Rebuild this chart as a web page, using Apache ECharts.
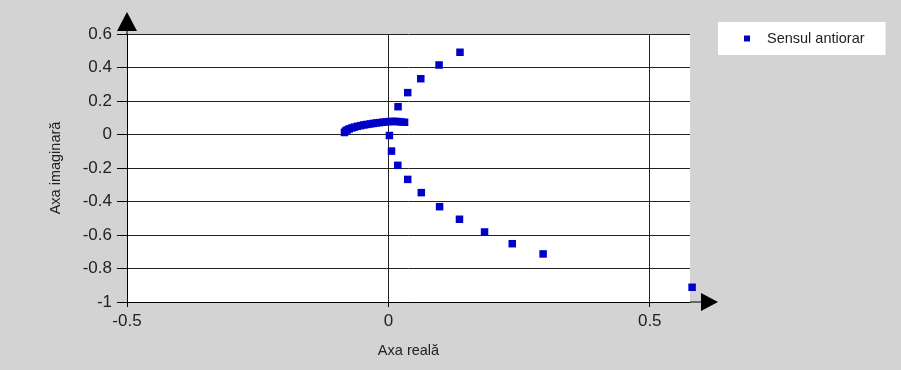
<!DOCTYPE html>
<html>
<head>
<meta charset="utf-8">
<script src="https://cdn.jsdelivr.net/npm/echarts@6/dist/echarts.min.js"></script>
<style>
html,body{margin:0;padding:0;background:#d3d3d3;}
#chart{width:901px;height:370px;}
</style>
</head>
<body>
<div id="chart"></div>
<script>
// Data
var seriesName = 'Sensul antiorar';
var xAxisName = 'Axa reală';
var yAxisName = 'Axa imaginară';
var xTicks = [-0.5, 0, 0.5];
var yTicks = [-1, -0.8, -0.6, -0.4, -0.2, 0, 0.2, 0.4, 0.6];

// real parts
var realParts = [
  -0.084, -0.082, -0.079, -0.075, -0.070, -0.065, -0.059, -0.053, -0.047, -0.041,
  -0.035, -0.029, -0.023, -0.017, -0.011, -0.005, 0.001, 0.007, 0.013, 0.019,
  0.025, 0.031,
  0.0185, 0.037, 0.062, 0.097, 0.137,
  0.002,
  0.006, 0.018, 0.037, 0.063, 0.098, 0.136, 0.184, 0.237, 0.296, 0.581
];
// imaginary parts
var imagParts = [
  0.012, 0.020, 0.027, 0.033, 0.039, 0.044, 0.049, 0.053, 0.057, 0.060,
  0.063, 0.066, 0.069, 0.071, 0.073, 0.075, 0.077, 0.078, 0.078, 0.077,
  0.075, 0.073,
  0.166, 0.250, 0.333, 0.415, 0.491,
  -0.006,
  -0.099, -0.184, -0.268, -0.347, -0.431, -0.506, -0.582, -0.652, -0.713, -0.912
];

var points = realParts.map(function (x, i) { return [x, imagParts[i]]; });

var chart = echarts.init(document.getElementById('chart'), null, {renderer: 'canvas'});
var font = 'Liberation Sans, Arial, sans-serif';
chart.setOption({
  backgroundColor: '#d3d3d3',
  animation: false,
  grid: {
    left: 127, right: 211, top: 34, bottom: 68,
    show: true, backgroundColor: '#ffffff', borderWidth: 0
  },
  legend: {
    left: 718, top: 22,
    padding: [9, 21, 9, 26],
    backgroundColor: '#ffffff',
    itemWidth: 6, itemHeight: 6,
    icon: 'rect',
    data: [seriesName],
    textStyle: {fontFamily: font, fontSize: 14.5, color: '#222', padding: [0, 0, 0, 12]}
  },
  xAxis: {
    type: 'value',
    min: xTicks[0], max: 0.577, interval: 0.5,
    name: xAxisName, nameLocation: 'middle', nameGap: 41,
    nameTextStyle: {fontFamily: font, fontSize: 14.5, color: '#222'},
    axisLine: {
      onZero: false,
      lineStyle: {color: '#000', width: 1},
      symbol: ['none', 'path://M9,0L18,17L0,17Z M8.5,17L9.5,17L9.5,28L8.5,28Z'],
      symbolSize: [18, 28], symbolOffset: [0, 14]
    },
    axisTick: {show: true, length: 5, lineStyle: {color: '#000'}, customValues: xTicks},
    axisLabel: {
      fontFamily: font, fontSize: 17, color: '#222', margin: 11,
      customValues: xTicks,
      formatter: function (v) { return String(Math.round(v * 10) / 10); }
    },
    splitLine: {show: true, lineStyle: {color: '#222', width: 1}}
  },
  yAxis: {
    type: 'value',
    min: yTicks[0], max: yTicks[yTicks.length - 1], interval: 0.2,
    name: yAxisName, nameLocation: 'middle', nameGap: 64,
    nameTextStyle: {fontFamily: font, fontSize: 14.5, color: '#222'},
    axisLine: {
      onZero: false,
      lineStyle: {color: '#000', width: 1},
      symbol: ['none', 'path://M10,0L20,19L0,19Z M9.5,19L10.5,19L10.5,22L9.5,22Z'],
      symbolSize: [20, 22], symbolOffset: [0, 11]
    },
    axisTick: {show: true, length: 10, lineStyle: {color: '#000'}},
    axisLabel: {
      fontFamily: font, fontSize: 17, color: '#222', margin: 15,
      formatter: function (v) { return String(Math.round(v * 10) / 10); }
    },
    splitLine: {show: true, lineStyle: {color: '#222', width: 1}}
  },
  series: [{
    name: seriesName,
    type: 'scatter',
    clip: false,
    symbol: 'rect',
    symbolSize: 7.5,
    itemStyle: {color: '#0000c8', opacity: 1},
    data: points
  }]
});
</script>
</body>
</html>
